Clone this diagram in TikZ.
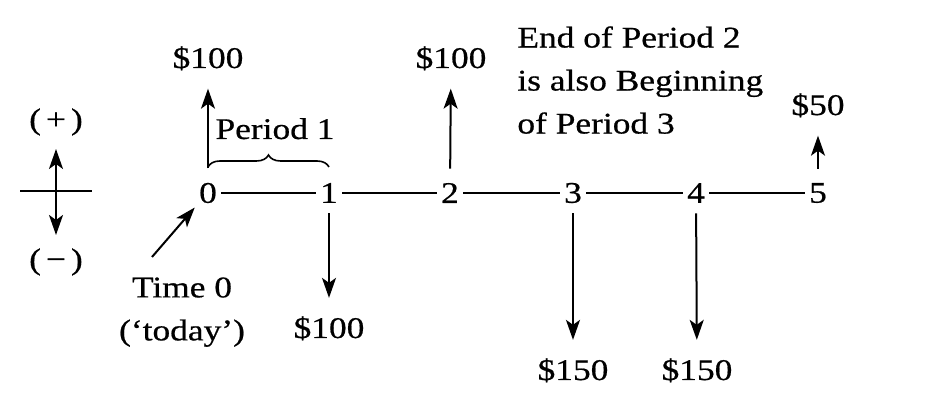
\documentclass[tikz,border=0pt]{standalone}
\usepackage{fontspec}
\setmainfont{Liberation Serif}[FakeStretch=1.18, FakeBold=0.6]
\usetikzlibrary{arrows.meta, decorations.pathreplacing}

\begin{document}
\begin{tikzpicture}[x=0.5pt, y=0.5pt, font=\fontsize{15}{21.5}\selectfont,
    every node/.style={inner sep=2pt},
    arr/.style={line width=1pt, -{Stealth[length=10pt,width=7pt,inset=2.5pt]}},
    inflow/.style={arr, shorten <=5pt, shorten >=7pt},
    outflow/.style={arr, shorten <=3pt, shorten >=7pt}]
  \useasboundingbox (0,0) rectangle (934,405);
  % sign convention
  \draw[line width=1pt] (20,214) -- (92,214);
  \node (plus) at (56,283) {(\,+\,)};
  \node (minus) at (56,143) {(\,−\,)};
  \draw[line width=1pt, {Stealth[length=10pt,width=7pt,inset=2.5pt]}-{Stealth[length=10pt,width=7pt,inset=2.5pt]},
    shorten <=4.5pt, shorten >=4.5pt] (plus) -- (minus);
  % time line
  \foreach \t/\x in {0/208, 1/329, 2/450, 3/573, 4/696, 5/818}
    \node (t\t) at (\x,212) {\t};
  \draw[line width=1pt] (t0) -- (t1) -- (t2) -- (t3) -- (t4) -- (t5);
  % cash flows
  \node[anchor=base] (up0) at (208,337) {\$100};
  \node[anchor=base] (up2) at (451,337) {\$100};
  \node[anchor=base] (up5) at (818,290) {\$50};
  \node[anchor=base] (dn1) at (329,67) {\$100};
  \node[anchor=base] (dn3) at (573,25) {\$150};
  \node[anchor=base] (dn4) at (697,25) {\$150};
  \draw[inflow] (t0) -- (up0);
  \draw[inflow] (t2) -- (up2);
  \draw[inflow] (t5) -- (up5);
  \draw[outflow] (t1) -- (dn1);
  \draw[outflow] (t3) -- (dn3);
  \draw[outflow] (t4) -- (dn4);
  % period 1
  \coordinate (b0) at (208,238);
  \coordinate (b1) at (329,238);
  \draw[line width=0.8pt, decorate, decoration={brace, amplitude=6pt}] (b0) -- (b1);
  \node[anchor=base] (per) at (275,266) {Period 1};
  % time 0
  \node[anchor=north, align=center] (today) at (182,132) {Time 0\\(‘today’)};
  \coordinate (tail) at (152,148);
  \draw[arr] (tail) -- (t0.south west);
  % note
  \node[anchor=north west, align=left] (note) at (513,383)
    {End of Period 2\\is also Beginning\\of Period 3};
\end{tikzpicture}
\end{document}
